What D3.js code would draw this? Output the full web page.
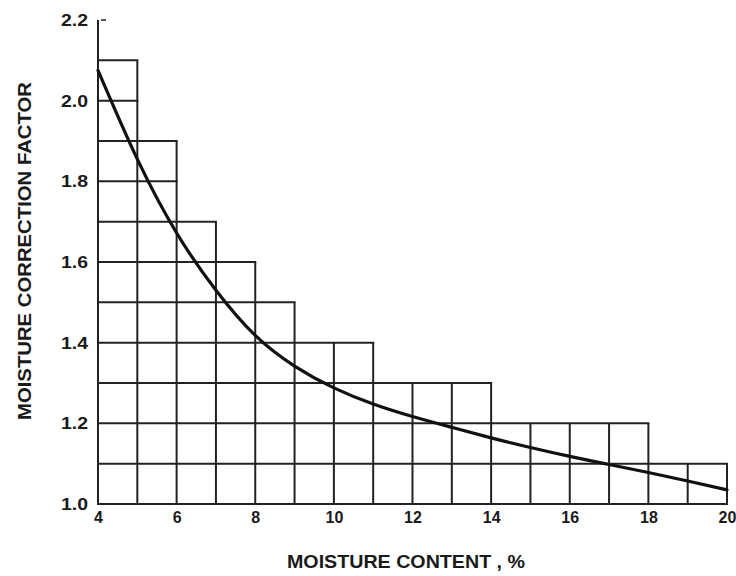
<!DOCTYPE html>
<html>
<head>
<meta charset="utf-8">
<script src="https://cdn.jsdelivr.net/npm/d3@7"></script>
<style>
  html, body { margin: 0; padding: 0; background: #fff; }
  svg { display: block; }
  text { font-family: "Liberation Sans", Arial, sans-serif; font-weight: bold; fill: #1a1a1a; }
</style>
</head>
<body>
<svg id="chart" width="736" height="576"></svg>
<script>
// ---- data ----
const moisture = [4, 5, 6, 7, 8, 9, 10, 11, 12, 13, 14, 15, 16, 17, 18, 19, 20];
const correctionFactor = [2.075, 1.855, 1.672, 1.53, 1.418, 1.342, 1.288, 1.248, 1.217, 1.19, 1.164, 1.14, 1.118, 1.098, 1.078, 1.057, 1.035];
// stepped grid: column start (moisture %) and the top of the grid in that column
const stepStarts = [4, 5, 6, 7, 8, 9, 10, 11, 12, 13, 14, 15, 16, 17, 18, 19];
const stepTops   = [2.1, 1.9, 1.7, 1.6, 1.5, 1.4, 1.4, 1.3, 1.3, 1.3, 1.2, 1.2, 1.2, 1.2, 1.1, 1.1];
const gridLevels = [1.0, 1.1, 1.2, 1.3, 1.4, 1.5, 1.6, 1.7, 1.8, 1.9, 2.0, 2.1];
const xTicks = [4, 6, 8, 10, 12, 14, 16, 18, 20];
const yTicks = [1.0, 1.2, 1.4, 1.6, 1.8, 2.0, 2.2];
const xTitle = "MOISTURE CONTENT , %";
const yTitle = "MOISTURE CORRECTION FACTOR";

// ---- scales ----
const x = d3.scaleLinear().domain([4, 20]).range([98, 727]);
const y = d3.scaleLinear().domain([1.0, 2.2]).range([504, 20]);

const svg = d3.select("#chart");
const eps = 1e-6;
const gridColor = "#222";

// vertical grid lines (each up to the taller adjacent column)
const vLines = [];
for (let k = 0; k <= stepStarts.length; k++) {
  const xv = k < stepStarts.length ? stepStarts[k] : stepStarts[k - 1] + 1;
  const left = k > 0 ? stepTops[k - 1] : -Infinity;
  const right = k < stepTops.length ? stepTops[k] : -Infinity;
  vLines.push({ xv, top: k === 0 ? 2.2 : Math.max(left, right) });
}
svg.append("g").selectAll("line").data(vLines).join("line")
  .attr("x1", d => x(d.xv)).attr("x2", d => x(d.xv))
  .attr("y1", y(1.0)).attr("y2", d => y(d.top))
  .attr("stroke", gridColor).attr("stroke-width", 2);

// horizontal grid lines (from left axis to last column reaching that level)
const hLines = gridLevels.map(v => {
  let end = stepStarts[0];
  stepStarts.forEach((s, i) => { if (stepTops[i] >= v - eps) end = s + 1; });
  return { v, end };
});
svg.append("g").selectAll("line").data(hLines).join("line")
  .attr("x1", x(4) - 1).attr("x2", d => x(d.end) + 1)
  .attr("y1", d => y(d.v)).attr("y2", d => y(d.v))
  .attr("stroke", gridColor).attr("stroke-width", 2);

// small tick at top of axis
svg.append("line")
  .attr("x1", x(4) + 3).attr("x2", x(4) + 8)
  .attr("y1", y(2.2)).attr("y2", y(2.2))
  .attr("stroke", gridColor).attr("stroke-width", 1.5);

// ---- axes (labels only) ----
const xAxis = svg.append("g")
  .attr("transform", `translate(0,${y(1.0) + 6})`)
  .call(d3.axisBottom(x).tickValues(xTicks).tickSize(0).tickPadding(2).tickFormat(d3.format("d")));
xAxis.select(".domain").remove();
xAxis.selectAll("text").attr("font-size", 16).attr("font-family", "Liberation Sans, Arial, sans-serif")
  .attr("font-weight", "bold").attr("fill", "#1a1a1a");

const yAxis = svg.append("g")
  .attr("transform", `translate(${x(4) - 10},0)`)
  .call(d3.axisLeft(y).tickValues(yTicks).tickSize(0).tickPadding(0).tickFormat(d3.format(".1f")));
yAxis.select(".domain").remove();
yAxis.selectAll("text").attr("font-size", 17).attr("font-family", "Liberation Sans, Arial, sans-serif")
  .attr("font-weight", "bold").attr("fill", "#1a1a1a")
  .attr("textLength", 27).attr("lengthAdjust", "spacingAndGlyphs");

// ---- curve ----
const line = d3.line()
  .x((d, i) => x(moisture[i]))
  .y(d => y(d))
  .curve(d3.curveNatural);
svg.append("path")
  .datum(correctionFactor)
  .attr("d", line)
  .attr("fill", "none")
  .attr("stroke", "#111")
  .attr("stroke-width", 3.2)
  .attr("stroke-linecap", "round");

// ---- titles ----
svg.append("text")
  .attr("x", 406).attr("y", 568)
  .attr("text-anchor", "middle")
  .attr("font-size", 18)
  .attr("textLength", 238).attr("lengthAdjust", "spacingAndGlyphs")
  .text(xTitle);

svg.append("text")
  .attr("transform", "translate(31,251) rotate(-90)")
  .attr("text-anchor", "middle")
  .attr("font-size", 18)
  .attr("textLength", 338).attr("lengthAdjust", "spacingAndGlyphs")
  .text(yTitle);
</script>
</body>
</html>
